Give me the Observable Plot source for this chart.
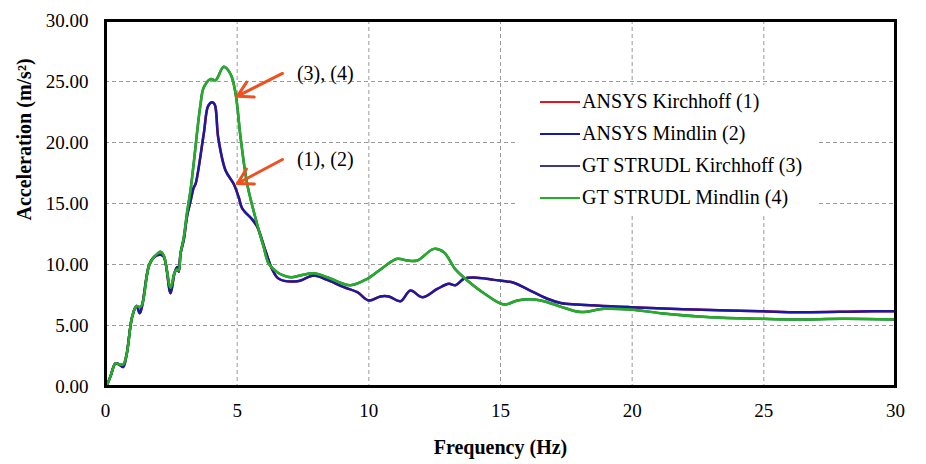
<!DOCTYPE html>
<html>
<head>
<meta charset="utf-8">
<script src="https://cdn.jsdelivr.net/npm/d3@7"></script>
<script src="https://cdn.jsdelivr.net/npm/@observablehq/plot@0.6"></script>
<style>
  html, body { margin: 0; padding: 0; background: white; }
  #chart { position: relative; width: 926px; height: 464px; font-family: "Liberation Serif", "Times New Roman", serif; }
  #legend { position: absolute; left: 517px; top: 85px; width: 300px; height: 130px; background: white; padding-left: 23px; box-sizing: border-box; }
  .row { height: 32px; line-height: 32px; font-size: 20px; white-space: nowrap; color: black; }
  .sw { display: inline-block; width: 40px; height: 2px; vertical-align: middle; margin-right: 2px; position: relative; top: -1px; }
</style>
</head>
<body>
<div id="chart"></div>
<script>
// Response spectra: acceleration vs frequency for the four plate models.
const seriesNames = [
  "ANSYS Kirchhoff (1)",
  "ANSYS Mindlin (2)",
  "GT STRUDL Kirchhoff (3)",
  "GT STRUDL Mindlin (4)"
];
const seriesColors = ["#e8141e", "#1a1aa0", "#3c3a88", "#22b022"];

// ANSYS results (Kirchhoff and Mindlin curves coincide)
const ansysFreq = [0, 0.06, 0.2, 0.38, 0.55, 0.67, 0.8, 1.01, 1.18, 1.3, 1.39, 1.65, 1.84, 2.09, 2.22, 2.47, 2.62, 2.72, 2.78, 2.85, 2.97, 3.1, 3.23, 3.35, 3.42, 3.73, 3.9, 4.05, 4.15, 4.28, 4.56, 4.87, 5.06, 5.19, 5.57, 5.76, 6.08, 6.33, 6.58, 7.28, 7.91, 8.42, 9.05, 9.56, 10.0, 10.44, 10.76, 11.2, 11.58, 12.03, 12.6, 13.04, 13.29, 13.61, 13.99, 14.75, 15.5, 16.0, 16.78, 17.28, 17.91, 19.94, 22.34, 24.88, 26.4, 28.67, 30];
const ansysAcc  = [0, 0.16, 0.9, 1.9, 1.75, 1.6, 2.6, 5.7, 6.6, 6.0, 6.6, 9.9, 10.6, 10.8, 10.6, 7.65, 9.3, 9.8, 9.4, 10.9, 12.0, 14.0, 15.2, 16.3, 16.6, 20.7, 23.0, 23.3, 23.1, 20.4, 17.7, 16.6, 15.5, 14.6, 13.7, 13.1, 11.1, 9.6, 8.83, 8.63, 9.1, 8.74, 8.14, 7.73, 7.05, 7.38, 7.38, 6.99, 7.87, 7.32, 8.0, 8.42, 8.3, 8.83, 8.93, 8.74, 8.5, 8.0, 7.19, 6.85, 6.72, 6.5, 6.31, 6.17, 6.09, 6.15, 6.17];

// GT STRUDL results (Kirchhoff and Mindlin curves coincide)
const strudlFreq = [0, 0.06, 0.2, 0.38, 0.55, 0.67, 0.8, 1.01, 1.18, 1.3, 1.39, 1.65, 1.84, 2.09, 2.22, 2.47, 2.62, 2.72, 2.78, 2.85, 2.97, 3.1, 3.23, 3.35, 3.6, 3.73, 3.99, 4.18, 4.49, 4.75, 4.94, 5.13, 5.38, 5.76, 6.01, 6.2, 6.52, 7.03, 7.4, 7.91, 8.42, 9.3, 9.94, 10.57, 11.08, 11.46, 11.84, 12.47, 12.85, 13.29, 13.74, 14.37, 15.13, 15.64, 16.27, 16.78, 17.28, 18.04, 18.93, 19.94, 21.08, 22.98, 24.88, 26.14, 28.04, 30];
const strudlAcc  = [0, 0.16, 0.9, 1.9, 1.8, 1.8, 2.6, 5.7, 6.6, 6.5, 6.7, 9.9, 10.6, 11.05, 10.7, 8.1, 9.3, 9.6, 9.5, 10.9, 12.2, 14.3, 16.1, 18.3, 23.0, 24.5, 25.2, 25.1, 26.2, 25.6, 24.0, 20.4, 16.6, 13.3, 11.4, 10.06, 9.37, 8.96, 9.1, 9.29, 8.96, 8.3, 8.83, 9.8, 10.47, 10.33, 10.33, 11.28, 11.0, 9.6, 8.69, 7.65, 6.72, 7.05, 7.13, 6.91, 6.55, 6.1, 6.37, 6.31, 6.01, 5.68, 5.55, 5.49, 5.55, 5.49];

const xTicks = [0, 5, 10, 15, 20, 25, 30];
const yTicks = [0, 5, 10, 15, 20, 25, 30];

// Callouts: label text, label anchor and arrow tip (Hz, m/s²)
const noteLabels = ["(3), (4)", "(1), (2)"];
const noteFreq   = [6.72, 6.72];
const noteAcc    = [25.66, 18.61];
const tipFreq    = [5.01, 5.01];
const tipAcc     = [23.8, 16.64];
const noteTextFreq = [7.27, 7.27];

const curves = [
  [ansysFreq, ansysAcc],
  [ansysFreq, ansysAcc],
  [strudlFreq, strudlAcc],
  [strudlFreq, strudlAcc]
];
const rows = curves.flatMap(([fs, as], i) =>
  fs.map((f, j) => ({f, a: as[j], s: seriesNames[i]})));

const notes = noteLabels.map((label, i) => ({
  label, x1: noteFreq[i], y1: noteAcc[i], x2: tipFreq[i], y2: tipAcc[i], tx: noteTextFreq[i]
}));

const grid = {stroke: "#9a9a9a", strokeOpacity: 1, strokeWidth: 1, strokeDasharray: "4,3"};

const plot = Plot.plot({
  width: 926,
  height: 464,
  marginLeft: 105,
  marginRight: 31,
  marginTop: 20,
  marginBottom: 78,
  style: {fontFamily: "Liberation Serif, Times New Roman, serif", fontSize: "19px", color: "black", background: "white"},
  x: {domain: [0, 30], ticks: xTicks, tickSize: 0, tickPadding: 17, label: null},
  y: {domain: [0, 30], ticks: yTicks, tickFormat: d3.format(".2f"), tickSize: 0, tickPadding: 17, label: null},
  color: {domain: seriesNames, range: seriesColors},
  marks: [
    Plot.gridX(xTicks.slice(1, -1), grid),
    Plot.gridY(yTicks.slice(1, -1), grid),
    Plot.line(rows, {x: "f", y: "a", z: "s", stroke: "s", strokeWidth: 2.5, curve: "catmull-rom"}),
    Plot.arrow(notes, {x1: "x1", y1: "y1", x2: "x2", y2: "y2", stroke: "#f0501e", strokeWidth: 3, headLength: 22, headAngle: 60}),
    Plot.text(notes, {x: "tx", y: "y1", text: "label", textAnchor: "start", fontSize: 20, fill: "black"}),
    Plot.frame({stroke: "black", strokeWidth: 3}),
    Plot.text(["Frequency (Hz)"], {frameAnchor: "bottom", dy: 67, fontSize: 20, fontWeight: "bold", fill: "black"}),
    Plot.text(["Acceleration (m/s²)"], {frameAnchor: "left", dx: -81, dy: 17, rotate: -90, fontSize: 20, fontWeight: "bold", fill: "black"})
  ]
});

const chart = document.getElementById("chart");
chart.appendChild(plot);

// Legend box drawn over the plot area
const legend = document.createElement("div");
legend.id = "legend";
seriesNames.forEach((name, i) => {
  const row = document.createElement("div");
  row.className = "row";
  const sw = document.createElement("span");
  sw.className = "sw";
  sw.style.background = seriesColors[i];
  row.appendChild(sw);
  row.appendChild(document.createTextNode(name));
  legend.appendChild(row);
});
chart.appendChild(legend);
</script>
</body>
</html>
